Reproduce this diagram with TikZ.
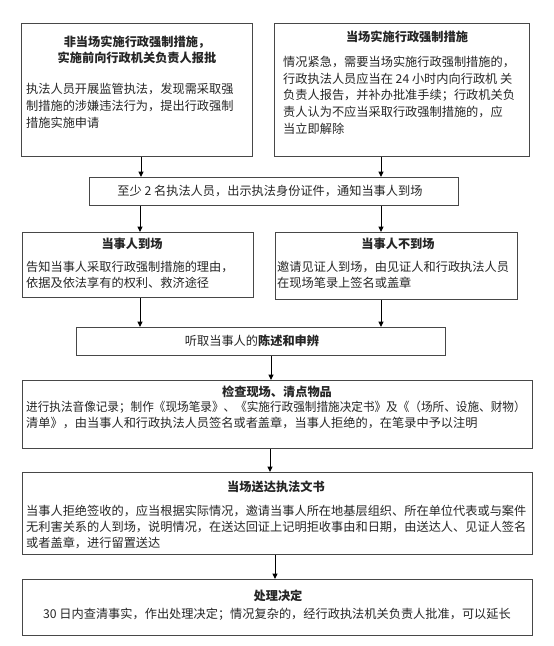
\documentclass[tikz,border=0pt]{standalone}
\usepackage{fontspec}
\usepackage{graphicx}
\setmainfont{Noto Sans CJK SC}
\usetikzlibrary{arrows.meta}
\tikzset{
  box/.style={draw=black!72, line width=1.1pt, rectangle, inner sep=0pt, anchor=north west},
  txt/.style={inner sep=0pt, font=\fontsize{12.2}{16.8}\selectfont, text=black!85},
  ttl/.style={txt, font=\fontsize{12.2}{16.5}\selectfont\bfseries, align=center},
  arr/.style={line width=1pt, -{Triangle[length=5.5pt,width=5pt]}}
}
\begin{document}
\begin{tikzpicture}[x=1pt,y=-1pt]
\useasboundingbox (0,0) rectangle (554,646);
\fill[white] (0,0) rectangle (554,646);
% boxes
\node[box, minimum width=231pt, minimum height=133pt] (b1) at (21,23) {};
\node[box, minimum width=255pt, minimum height=133pt] (b2) at (274,23) {};
\node[box, minimum width=369pt, minimum height=28pt] (b3) at (89,177) {};
\node[box, minimum width=231pt, minimum height=65pt] (b4) at (22,232) {};
\node[box, minimum width=242pt, minimum height=67pt] (b5) at (275,232) {};
\node[box, minimum width=369pt, minimum height=28pt] (b6) at (76,327) {};
\node[box, minimum width=510pt, minimum height=68pt] (b7) at (22,380) {};
\node[box, minimum width=510pt, minimum height=82pt] (b8) at (22,472) {};
\node[box, minimum width=510pt, minimum height=56pt] (b9) at (22,579) {};
% texts
\node[ttl] (t1a) at (137,50) {非当场实施行政强制措施，\\实施前向行政机关负责人报批};
\node[txt, align=left, anchor=west] (t1b) at (26,106) {执法人员开展监管执法，发现需采取强\\制措施的涉嫌违法行为，提出行政强制\\措施实施申请};
\node[ttl] (t2a) at (407,37) {当场实施行政强制措施};
\node[txt, align=left, anchor=west] (t2b) at (283,95.2) {情况紧急，需要当场实施行政强制措施的，\\行政执法人员应当在 24 小时内向行政机 关\\负责人报告，并补办批准手续；行政机关负\\责人认为不应当采取行政强制措施的，应\\当立即解除};
\node[txt] (t3) at (270,191.5) {至少 2 名执法人员，出示执法身份证件，通知当事人到场};
\node[ttl] (t4a) at (132,244) {当事人到场};
\node[txt, align=left, anchor=west, font=\fontsize{12.2}{16.3}\selectfont] (t4b) at (26,275) {告知当事人采取行政强制措施的理由，\\依据及依法享有的权利、救济途径};
\node[ttl] (t5a) at (398,244) {当事人不到场};
\node[txt, align=left, anchor=west, font=\fontsize{12.2}{16.3}\selectfont] (t5b) at (277,275) {邀请见证人到场，由见证人和行政执法人员\\在现场笔录上签名或盖章};
\node[txt] (t6) at (252,341) {听取当事人的\textbf{陈述和申辨}};
\node[ttl] (t7a) at (277,392) {检查现场、清点物品};
\node[txt, align=left, anchor=west, font=\fontsize{12.2}{16}\selectfont] (t7b) at (26,415) {\scalebox{0.952}[1]{进行执法音像记录；制作《现场笔录》、《实施行政强制措施决定书》及《（场所、设施、财物）}\\清单》，由当事人和行政执法人员签名或者盖章，当事人拒绝的，在笔录中予以注明};
\node[ttl] (t8a) at (276,487) {当场送达执法文书};
\node[txt, align=left, anchor=west, font=\fontsize{12.2}{16}\selectfont] (t8b) at (26,527) {当事人拒绝签收的，应当根据实际情况，邀请当事人所在地基层组织、所在单位代表或与案件\\无利害关系的人到场，说明情况，在送达回证上记明拒收事由和日期，由送达人、见证人签名\\或者盖章，进行留置送达};
\node[ttl] (t9a) at (278,596) {处理决定};
\node[txt] (t9b) at (277,614) {30 日内查清事实，作出处理决定；情况复杂的，经行政执法机关负责人批准，可以延长};
% arrow x positions
\coordinate (xa) at (141,0);
\coordinate (xb) at (381,0);
\coordinate (xc) at (140,0);
\coordinate (xd) at (271,0);
\coordinate (xe) at (270,0);
\coordinate (xf) at (275,0);
% connectors
\draw[arr] (b1.south -| xa) -- (b3.north -| xa);
\draw[arr] (b2.south -| xb) -- (b3.north -| xb);
\draw[arr] (b3.south -| xc) -- (b4.north -| xc);
\draw[arr] (b3.south -| xb) -- (b5.north -| xb);
\draw[arr] (b4.south -| xc) -- (b6.north -| xc);
\draw[arr] (b5.south -| xb) -- (b6.north -| xb);
\draw[arr] (b6.south -| xd) -- (b7.north -| xd);
\draw[arr] (b7.south -| xe) -- (b8.north -| xe);
\draw[arr] (b8.south -| xf) -- (b9.north -| xf);
\end{tikzpicture}
\end{document}
